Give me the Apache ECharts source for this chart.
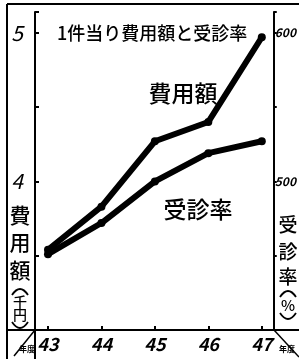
<!DOCTYPE html>
<html>
<head>
<meta charset="utf-8">
<script src="https://cdn.jsdelivr.net/npm/echarts@6/dist/echarts.min.js"></script>
<style>
html,body{margin:0;padding:0;background:#fff;}
#c{width:299px;height:359px;}
</style>
</head>
<body>
<div id="c"></div>
<script>
// Data
var years = [43, 44, 45, 46, 47];
var costValues = [3.54, 3.83, 4.27, 4.40, 4.97];      // 費用額 (千円), left axis
var visitRates = [451, 472, 500, 519, 527];           // 受診率 (%), right axis
var leftTickLabels = ['4', '5'];
var rightTickLabels = ['500', '600'];
var titleText = '1件当り費用額と受診率';
var costName = '費用額';
var rateName = '受診率';
var leftAxisMain = ['費', '用', '額'];
var leftAxisUnit = ['千', '円'];
var rightAxisMain = ['受', '診', '率'];
var rightAxisUnit = ['%'];
var cornerText = '年度';

var FONT = '"Noto Sans CJK JP", "Noto Sans", sans-serif';
var chart = echarts.init(document.getElementById('c'), null, {renderer: 'canvas'});

function pairs(xs, ys) { return xs.map(function (x, i) { return [x, ys[i]]; }); }

function txt(s, x, y, size, weight) {
  return {type: 'text', x: x, y: y, style: {text: s, font: (weight || 'normal') + ' ' + size + 'px ' + FONT,
    fill: '#000', align: 'center', verticalAlign: 'middle'}};
}
// vertical-writing parenthesis drawn as a shallow curve
function paren(cx, y, w, bow) {
  return {type: 'bezierCurve', shape: {x1: cx - w, y1: y, x2: cx + w, y2: y, cpx1: cx, cpy1: y + bow},
    style: {stroke: '#000', lineWidth: 1.8, fill: null}};
}

var lineSty = {color: '#000', width: 2};
var graphics = [
  {type: 'line', shape: {x1: 7, y1: 4, x2: 299, y2: 4}, style: {stroke: '#000', lineWidth: 2}},
  {type: 'line', shape: {x1: 7, y1: 4, x2: 7, y2: 359}, style: {stroke: '#000', lineWidth: 2}},
  {type: 'line', shape: {x1: 35, y1: 330, x2: 35, y2: 359}, style: {stroke: '#000', lineWidth: 2}},
  {type: 'line', shape: {x1: 7, y1: 330, x2: 35, y2: 330}, style: {stroke: '#000', lineWidth: 2}},
  {type: 'line', shape: {x1: 274, y1: 330, x2: 299, y2: 330}, style: {stroke: '#000', lineWidth: 2}},
  {type: 'line', shape: {x1: 14, y1: 356, x2: 35, y2: 330}, style: {stroke: '#000', lineWidth: 1.5}},
  {type: 'line', shape: {x1: 274, y1: 330, x2: 299, y2: 357}, style: {stroke: '#000', lineWidth: 1.5}},
  txt(cornerText, 27, 349, 8, 'bold'),
  txt(cornerText, 287, 349, 8, 'bold'),
  {type: 'text', left: 57, top: 24, style: {text: titleText, font: '500 18px ' + FONT, fill: '#000'}},
  txt(costName, 183, 93, 23, '500'),
  txt(rateName, 198, 209, 23, '500'),
  paren(20, 295, 8, -12),
  paren(20, 322, 8, 12),
  paren(288, 297, 8, -12),
  paren(288, 313, 8, 12)
];
[215, 242, 270].forEach(function (y, i) { graphics.push(txt(leftAxisMain[i], 20, y, 21, '500')); });
[302, 315].forEach(function (y, i) { graphics.push(txt(leftAxisUnit[i], 20, y, 14, '500')); });
[225, 252, 277].forEach(function (y, i) { graphics.push(txt(rightAxisMain[i], 288, y, 19, '500')); });
[305].forEach(function (y, i) { graphics.push(txt(rightAxisUnit[i], 288, y, 15, '500')); });

chart.setOption({
  animation: false,
  backgroundColor: '#fff',
  grid: {left: 35, right: 25, top: 12, bottom: 29, containLabel: false},
  xAxis: {
    type: 'value', min: 42.757, max: 47.224,
    axisLine: {show: true, lineStyle: lineSty},
    axisTick: {show: true, inside: true, length: 4, lineStyle: {color: '#000', width: 2}, customValues: years},
    axisLabel: {customValues: years, color: '#000', fontSize: 18, fontStyle: 'italic', fontWeight: 'bold', fontFamily: FONT, margin: 5,
      formatter: function (v) { return String(Math.round(v)); }},
    splitLine: {show: false}
  },
  yAxis: [
    {
      type: 'value', min: 3, max: 5.14, interval: 0.5,
      axisLine: {show: true, lineStyle: lineSty},
      axisTick: {show: true, inside: true, length: 4, lineStyle: {color: '#000', width: 2}},
      axisLabel: {color: '#000', fontSize: 21, fontStyle: 'italic', fontFamily: FONT, margin: 12,
        formatter: function (v) { var s = String(Math.round(v)); return (Math.abs(v - Math.round(v)) < 1e-6 && leftTickLabels.indexOf(s) >= 0) ? s : ''; }},
      splitLine: {show: false}
    },
    {
      type: 'value', min: 400, max: 614, interval: 50,
      axisLine: {show: true, lineStyle: lineSty},
      axisTick: {show: true, inside: false, length: 3, lineStyle: {color: '#000', width: 2}},
      axisLabel: {color: '#000', fontSize: 12, fontStyle: 'italic', fontWeight: 'bold', fontFamily: FONT, margin: 1,
        formatter: function (v) { var s = String(Math.round(v)); return rightTickLabels.indexOf(s) >= 0 ? s : ''; }},
      splitLine: {show: false}
    }
  ],
  series: [
    {
      name: costName, type: 'line', yAxisIndex: 0, data: pairs(years, costValues),
      symbol: 'circle', symbolSize: 8, itemStyle: {color: '#000'},
      lineStyle: {color: '#000', width: 6, cap: 'round', join: 'round'}
    },
    {
      name: rateName, type: 'line', yAxisIndex: 1, data: pairs(years, visitRates),
      symbol: 'circle', symbolSize: 8, itemStyle: {color: '#000'},
      lineStyle: {color: '#000', width: 6, cap: 'round', join: 'round'}
    }
  ],
  graphic: graphics
});
</script>
</body>
</html>
